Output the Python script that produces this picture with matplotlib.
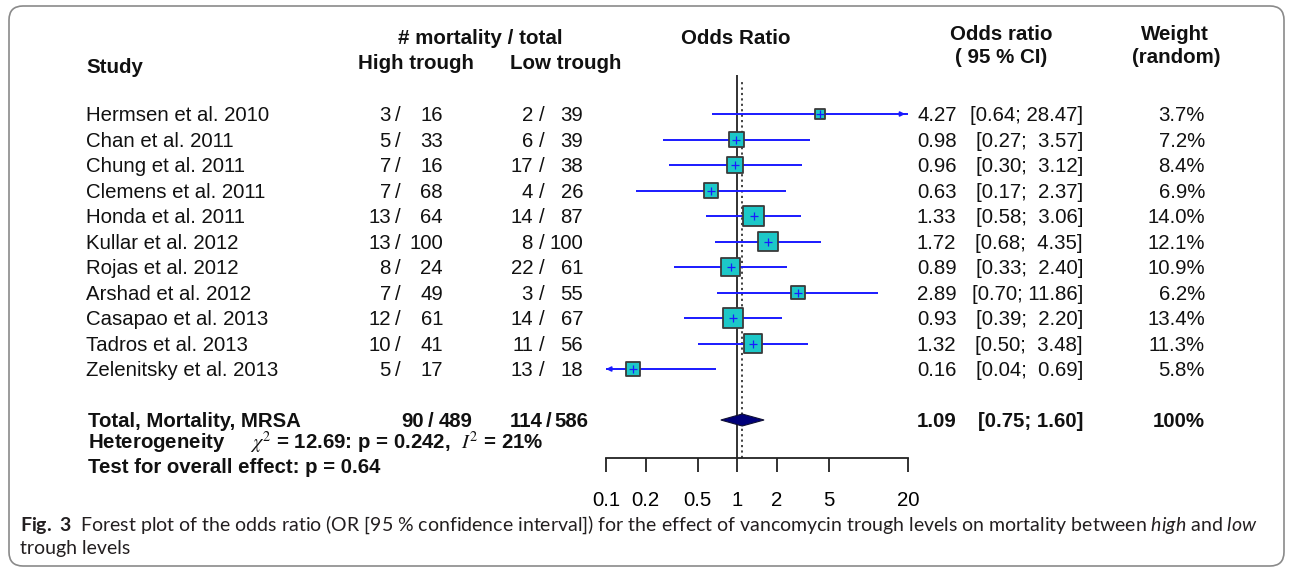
import numpy as np
import matplotlib
matplotlib.use("Agg")
import matplotlib.pyplot as plt
from matplotlib import transforms
from matplotlib.patches import FancyBboxPatch, Polygon
from matplotlib.ticker import NullLocator, FixedLocator, FixedFormatter

# ---- data ----
studies = ["Hermsen et al. 2010", "Chan et al. 2011", "Chung et al. 2011",
           "Clemens et al. 2011", "Honda et al. 2011", "Kullar et al. 2012",
           "Rojas et al. 2012", "Arshad et al. 2012", "Casapao et al. 2013",
           "Tadros et al. 2013", "Zelenitsky et al. 2013"]
high_events = [3, 5, 7, 7, 13, 13, 8, 7, 12, 10, 5]
high_total = [16, 33, 16, 68, 64, 100, 24, 49, 61, 41, 17]
low_events = [2, 6, 17, 4, 14, 8, 22, 3, 14, 11, 13]
low_total = [39, 39, 38, 26, 87, 100, 61, 55, 67, 56, 18]
odds_ratio = [4.27, 0.98, 0.96, 0.63, 1.33, 1.72, 0.89, 2.89, 0.93, 1.32, 0.16]
ci_low = [0.64, 0.27, 0.30, 0.17, 0.58, 0.68, 0.33, 0.70, 0.39, 0.50, 0.04]
ci_high = [28.47, 3.57, 3.12, 2.37, 3.06, 4.35, 2.40, 11.86, 2.20, 3.48, 0.69]
weights = [3.7, 7.2, 8.4, 6.9, 14.0, 12.1, 10.9, 6.2, 13.4, 11.3, 5.8]
pooled_or, pooled_lo, pooled_hi = 1.09, 0.75, 1.60
total_high = (90, 489)
total_low = (114, 586)
x_ticks = [0.1, 0.2, 0.5, 1, 2, 5, 20]
x_tick_labels = ["0.1", "0.2", "0.5", "1", "2", "5", "20"]

W, H = 1292, 572
plt.rcParams['font.family'] = ['Liberation Sans', 'DejaVu Sans']
plt.rcParams['mathtext.fontset'] = 'custom'
plt.rcParams['mathtext.rm'] = 'Lato'
plt.rcParams['mathtext.bf'] = 'Lato:bold'
plt.rcParams['mathtext.it'] = 'Lato:italic'

fig = plt.figure(figsize=(W / 100, H / 100), dpi=100)

# forest axes: 0.1 .. 20 on a log scale, one unit per study row
row0_px, row_step = 114, 25.5
ax_top, ax_bot, ax_left, ax_right = 75, 458, 606, 908
ax = fig.add_axes([ax_left / W, 1 - ax_bot / H, (ax_right - ax_left) / W, (ax_bot - ax_top) / H])
ax.set_xscale('log')
ax.set_xlim(0.1, 20)
ax.set_ylim((ax_bot - row0_px) / row_step, (ax_top - row0_px) / row_step)
ax.patch.set_alpha(0)
for s in ['left', 'top', 'right']:
    ax.spines[s].set_visible(False)
ax.spines['bottom'].set_linewidth(1.3)
ax.spines['bottom'].set_color('#222222')
ax.set_yticks([])
ax.xaxis.set_minor_locator(NullLocator())
ax.xaxis.set_major_locator(FixedLocator(x_ticks))
ax.xaxis.set_major_formatter(FixedFormatter(x_tick_labels))
ax.tick_params(axis='x', direction='out', length=10, width=1.3, color='#222222',
               pad=14, labelsize=14.7)

rows = np.arange(len(studies))
total_row = 12.0

ax.axvline(1, color='#222222', lw=1.3, zorder=1)
ax.axvline(pooled_or, ymax=0.99, color='#333333', lw=1.3, ls=(0, (1.2, 1.8)), zorder=1)

lo_c = np.clip(ci_low, 0.1, 20)
hi_c = np.clip(ci_high, 0.1, 20)
ax.hlines(rows, lo_c, hi_c, color='#1a1aff', lw=1.4, zorder=2)
for r, lo, hi, lc, hc in zip(rows, ci_low, ci_high, lo_c, hi_c):
    if hi > 20:
        ax.annotate('', xy=(hc, r), xytext=(hc * 0.9, r),
                    arrowprops=dict(arrowstyle='-|>', color='#1a1aff', lw=1.2, mutation_scale=7))
    if lo < 0.1:
        ax.annotate('', xy=(lc, r), xytext=(lc * 1.1, r),
                    arrowprops=dict(arrowstyle='-|>', color='#1a1aff', lw=1.2, mutation_scale=7))

box_s = (5.6 * 0.72) ** 2 * np.array(weights)
ax.scatter(odds_ratio, rows, s=box_s, marker='s', color='#1cc8c8',
           edgecolors='#3a3a3a', linewidths=1.3, zorder=3)
ax.scatter(odds_ratio, rows, s=30, marker='+', color='#1a1aff', linewidths=0.9, zorder=4)

h = 6 / row_step
diamond = Polygon([(pooled_lo, total_row), (pooled_or, total_row - h),
                   (pooled_hi, total_row), (pooled_or, total_row + h)],
                  closed=True, facecolor='#00007a', edgecolor='#111133', lw=0.8, zorder=3)
ax.add_patch(diamond)

# text columns: x in figure pixels, y in row units
tr = transforms.blended_transform_factory(fig.transFigure, ax.transData)
fs = 14.7
dy = 0.29  # baseline offset so caps are centred on the row
txt = '#111111'


def put(px, row, s, ha='left', **kw):
    ax.text(px / W, row + dy, s, transform=tr, ha=ha, va='baseline',
            fontsize=kw.pop('size', fs), color=txt, clip_on=False, **kw)


for r, name, he, ht, le, lt, o, lo, hi, w in zip(rows, studies, high_events, high_total,
                                                low_events, low_total, odds_ratio,
                                                ci_low, ci_high, weights):
    put(86, r, name)
    put(391, r, f"{he}", ha='right')
    put(398, r, "/", ha='center')
    put(443, r, f"{ht}", ha='right')
    put(533, r, f"{le}", ha='right')
    put(542, r, "/", ha='center')
    put(583, r, f"{lt}", ha='right')
    put(917, r, f"{o:.2f}")
    put(1083, r, f"[{lo:.2f}; {hi:5.2f}]", ha='right')
    put(1205, r, f"{w:.1f}%", ha='right')

put(88, total_row, "Total, Mortality, MRSA", fontweight='bold')
put(424, total_row, f"{total_high[0]}", ha='right', fontweight='bold')
put(431, total_row, "/", ha='center', fontweight='bold')
put(473, total_row, f"{total_high[1]}", ha='right', fontweight='bold')
put(543, total_row, f"{total_low[0]}", ha='right', fontweight='bold')
put(549, total_row, "/", ha='center', fontweight='bold')
put(588, total_row, f"{total_low[1]}", ha='right', fontweight='bold')
put(917, total_row, f"{pooled_or:.2f}", fontweight='bold')
put(1083, total_row, f"[{pooled_lo:.2f}; {pooled_hi:.2f}]", ha='right', fontweight='bold')
put(1205, total_row, "100%", ha='right', fontweight='bold')
put(88, (442 - row0_px) / row_step,
    r"Heterogeneity     $\chi^2$ = 12.69: p = 0.242,  $I^2$ = 21%",
    fontweight='bold', math_fontfamily='stix')
put(88, (466 - row0_px) / row_step, "Test for overall effect: p = 0.64", fontweight='bold')


# headers (figure pixels)
def head(px, py, s, ha='center', size=14.8):
    fig.text(px / W, 1 - (py + 8) / H, s, ha=ha, va='baseline', fontsize=size,
             color=txt, fontweight='bold')


head(86, 65, "Study", ha='left')
head(480, 36, "# mortality / total")
head(416, 61, "High trough")
head(566, 61, "Low trough")
head(736, 36, "Odds Ratio")
head(1001, 32, "Odds ratio")
head(1001, 55, "( 95 % CI)")
head(1175, 32, "Weight")
head(1176, 55, "(random)")

# caption
cap_col = '#231f20'
fig.text(20 / W, 1 - 531 / H,
         r"$\mathbf{Fig.\ 3}$  Forest plot of the odds ratio (OR [95 % confidence interval]) "
         r"for the effect of vancomycin trough levels on mortality between $\mathit{high}$ and $\mathit{low}$",
         family='Lato', fontsize=14.0, color=cap_col, ha='left', va='baseline')
fig.text(20 / W, 1 - 554 / H, "trough levels", family='Lato', fontsize=14.0,
         color=cap_col, ha='left', va='baseline')

# rounded frame
frame = FancyBboxPatch((0.09, 0.06), 12.75, 5.6, boxstyle="round,pad=0,rounding_size=0.14",
                       transform=fig.dpi_scale_trans, facecolor='none',
                       edgecolor='#8a8a8a', lw=1.2)
fig.add_artist(frame)

fig.savefig("out.png", dpi=100)
